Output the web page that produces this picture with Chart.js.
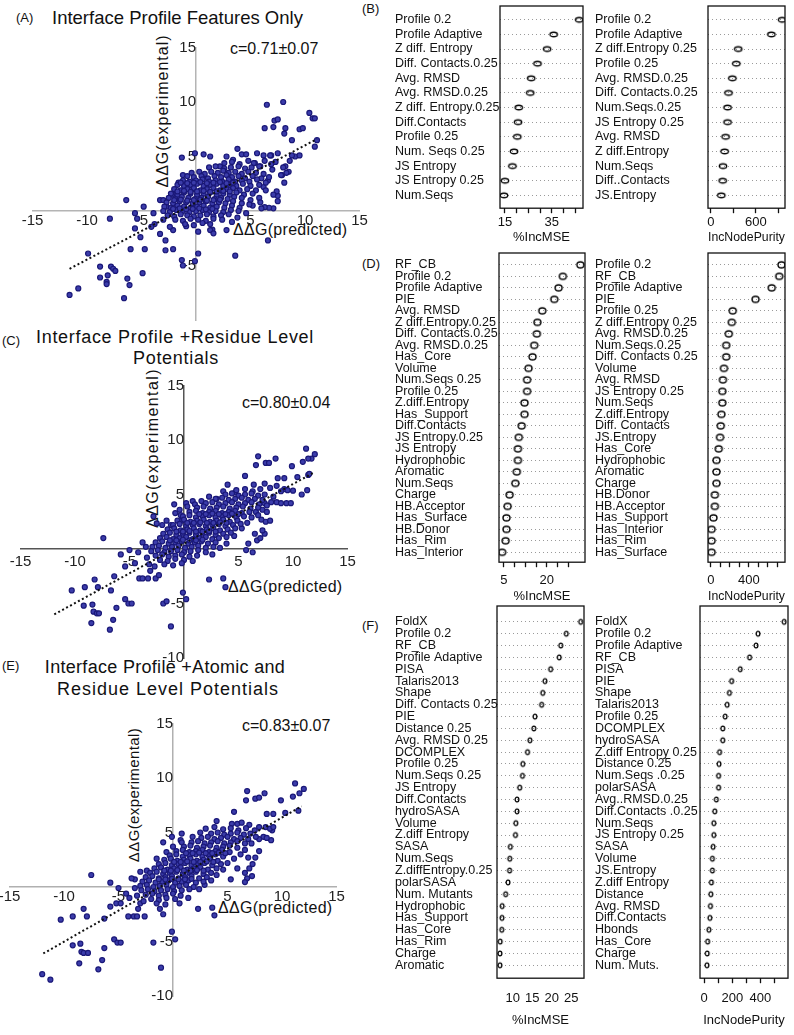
<!DOCTYPE html>
<html>
<head>
<meta charset="utf-8">
<script src="https://cdn.jsdelivr.net/npm/chart.js@4.4.1/dist/chart.umd.min.js"></script>
<style>
  body { margin: 0; background: #fff; }
  #page { position: relative; width: 794px; height: 1035px; overflow: hidden;
          font-family: "Liberation Sans", Arial, sans-serif; color: #111; }
  canvas { position: absolute; }
  .t { position: absolute; white-space: nowrap; line-height: 1; transform: translateY(-50%); }
  .tc { position: absolute; white-space: nowrap; line-height: 1; transform: translate(-50%, -50%); }
  .rot { position: absolute; white-space: nowrap; line-height: 1; transform: translate(-50%, -50%) rotate(-90deg); }
</style>
</head>
<body>
<div id="page">
  <div class="t" style="left:16px;top:17px;font-size:13px">(A)</div>
  <div class="t" style="left:52px;top:18px;font-size:18.5px">Interface Profile Features Only</div>
  <div class="t" style="left:230px;top:49px;font-size:16px">c=0.71±0.07</div>
  <div class="rot" style="left:163px;top:111px;font-size:16px;letter-spacing:1px">ΔΔG(experimental)</div>
  <div class="t" style="left:233px;top:230px;font-size:16px;letter-spacing:0.3px">ΔΔG(predicted)</div>

  <div class="t" style="left:2px;top:340px;font-size:13px">(C)</div>
  <div class="tc" style="left:175px;top:337px;font-size:18px;letter-spacing:0.7px">Interface Profile +Residue Level</div>
  <div class="tc" style="left:176px;top:358px;font-size:18px;letter-spacing:0.7px">Potentials</div>
  <div class="t" style="left:242px;top:403px;font-size:16px">c=0.80±0.04</div>
  <div class="rot" style="left:153px;top:448px;font-size:16px;letter-spacing:1.4px">ΔΔG(experimental)</div>
  <div class="t" style="left:228px;top:587px;font-size:16px;letter-spacing:0.3px">ΔΔG(predicted)</div>

  <div class="t" style="left:2px;top:665px;font-size:13px">(E)</div>
  <div class="tc" style="left:165px;top:667px;font-size:18px;letter-spacing:0.3px">Interface Profile +Atomic and</div>
  <div class="tc" style="left:168px;top:689px;font-size:18px;letter-spacing:1px">Residue Level Potentials</div>
  <div class="t" style="left:242px;top:726px;font-size:16px">c=0.83±0.07</div>
  <div class="rot" style="left:133px;top:795px;font-size:15px;letter-spacing:0.4px">ΔΔG(experimental)</div>
  <div class="t" style="left:218px;top:908px;font-size:16px;letter-spacing:0.3px">ΔΔG(predicted)</div>

  <div class="t" style="left:362px;top:8px;font-size:13px">(B)</div>
  <div class="t" style="left:362px;top:263px;font-size:13px">(D)</div>
  <div class="t" style="left:362px;top:625px;font-size:13px">(F)</div>
</div>
<script>
// ---- scatter data: [predicted, experimental] ----
const scatterA = [
  [6.5,9.75],[8.0,10.0],[7.2,8.3],[7.5,8.4],[7.1,7.7],[6.3,7.6],[8.2,7.6],[8.1,7.1],[9.5,7.5],[9.8,7.6],
  [10.4,9.0],[10.7,8.5],[10.9,8.5],[8.8,6.5],[11.1,6.5],[10.9,5.9],[9.1,5.0],[8.6,4.6],[8.2,4.1],[8.5,3.6],
  [8.1,2.6],[7.9,3.3],[8.8,5.1],[9.5,5.1],[8.0,4.0],[8.3,3.5],[7.8,3.3],
  [7.5,1.4],[7.5,0.9],[7.1,0.25],[6.7,0.3],[6.3,0.35],[6.0,0.25],[7.4,1.8],[7.1,1.5],[6.6,-2.7],[5.8,1.2],
  [6.2,2.2],[6.6,2.8],[7.0,3.8],[6.9,4.3],[5.9,0.8],[5.2,0.5],[4.6,-0.2],[3.8,-0.6],[3.3,-1.0],[6.4,1.9],
  [-1.3,4.9],[-1.2,3.3],[-1.6,2.6],[-2.2,1.5],[-1.8,1.6],[-1.0,2.25],[-0.25,2.0],[-0.1,5.3],[0.7,5.2],
  [1.3,5.0],[2.8,5.0],[3.8,5.7],[4.2,5.2],[4.6,5.2],[5.6,5.3],[6.2,5.1],[6.9,5.1],[5.4,4.4],[5.9,4.1],
  [6.8,5.1],[7.5,5.3],[2.2,4.1],[3.4,4.7],[6.3,4.6],[7.3,4.5],
  [3.6,-4.1],[0.2,-3.9],[-0.1,-4.6],[-1.2,-5.0],[-1.3,-4.5],[-2.1,-3.5],[-2.8,-3.6],[-2.8,-2.7],[-3.3,-2.1],
  [-3.0,-0.8],[-3.8,-1.2],[1.5,-1.7],[-0.9,-1.4],[-2.1,-1.75],[-2.4,-1.45],[-4.1,-1.45],[0.2,-1.9],
  [1.3,-1.75],[1.6,-2.05],[2.8,-1.75],
  [-4.7,-3.5],[-5.1,-2.4],[-5.6,-1.6],[-5.4,-0.7],[-5.6,-0.2],[-3.9,-0.2],[-4.8,0.4],[-3.3,1.0],[-3.0,1.0],
  [-2.7,0.4],[-6.4,1.0],[-7.9,-0.7],[-6.0,-3.5],[-9.9,-3.9],[-8.8,-5.1],[-7.8,-5.1],[-7.6,-5.3],[-7.4,-5.5],
  [-8.8,-6.1],[-8.1,-5.9],[-8.2,-6.5],[-8.2,-6.7],[-6.3,-6.2],[-6.1,-6.8],[-4.9,-5.7],[-10.8,-7.1],
  [-11.6,-7.7],[-6.6,-8.0],
  [2.6,4.4],[3.3,4.5],[4.0,4.3],[4.8,4.6],[5.3,4.4],
  [1.2,4.0],[1.8,4.1],[2.6,3.9],[3.2,4.0],[3.9,4.1],[4.5,3.9],[5.1,4.0],[5.8,4.1],
  [-0.4,3.5],[0.3,3.6],[0.8,3.4],[1.4,3.6],[2.0,3.5],[2.5,3.7],[3.0,3.5],[3.6,3.6],[4.2,3.4],[4.8,3.6],[5.5,3.5],[6.2,3.4],
  [-0.8,3.2],[-0.2,3.1],[0.5,3.2],[1.1,3.0],[1.7,3.2],[2.3,3.1],[2.8,3.3],[3.3,3.1],[3.9,3.2],[4.5,3.0],[5.2,3.2],[6.0,3.0],[6.7,3.1],
  [-1.2,2.8],[-0.6,2.7],[0.0,2.8],[0.6,2.9],[1.2,2.7],[1.8,2.8],[2.4,2.7],[3.0,2.9],[3.6,2.7],[4.2,2.8],[4.9,2.7],[5.6,2.9],[6.4,2.6],
  [-1.7,2.4],[-1.1,2.3],[-0.5,2.4],[0.1,2.5],[0.7,2.3],[1.3,2.4],[1.9,2.5],[2.5,2.3],[3.1,2.4],[3.7,2.3],[4.3,2.5],[5.0,2.3],[5.8,2.4],
  [-2.0,2.0],[-1.4,1.9],[-0.8,2.0],[-0.2,2.1],[0.4,1.9],[1.0,2.0],[1.6,2.1],[2.2,1.9],[2.8,2.0],[3.4,2.1],[4.0,1.9],[4.7,2.0],[5.5,1.9],
  [-2.3,1.6],[-1.7,1.5],[-1.1,1.7],[-0.5,1.6],[0.1,1.5],[0.7,1.6],[1.3,1.7],[1.9,1.5],[2.5,1.6],[3.1,1.5],[3.7,1.7],[4.4,1.5],[5.2,1.6],
  [-2.5,1.2],[-1.9,1.1],[-1.3,1.3],[-0.7,1.2],[-0.1,1.1],[0.5,1.2],[1.1,1.3],[1.7,1.1],[2.3,1.2],[2.9,1.1],[3.5,1.3],[4.2,1.2],[5.0,1.0],
  [-2.7,0.8],[-2.1,0.7],[-1.5,0.9],[-0.9,0.8],[-0.3,0.7],[0.3,0.8],[0.9,0.9],[1.5,0.7],[2.1,0.8],[2.7,0.7],[3.4,0.9],[4.2,0.7],[4.9,0.6],
  [-2.9,0.4],[-2.3,0.3],[-1.7,0.5],[-1.1,0.4],[-0.5,0.3],[0.1,0.4],[0.7,0.5],[1.3,0.3],[1.9,0.4],[2.6,0.3],[3.3,0.5],[4.0,0.3],
  [-3.0,0.0],[-2.4,-0.1],[-1.8,0.1],[-1.2,0.0],[-0.6,-0.1],[0.0,0.0],[0.6,0.1],[1.2,-0.1],[1.8,0.0],[2.5,-0.1],[3.2,0.1],[3.9,0.0],
  [-2.6,-0.4],[-2.0,-0.5],[-1.4,-0.3],[-0.8,-0.4],[-0.2,-0.5],[0.4,-0.4],[1.0,-0.3],[1.6,-0.5],[2.3,-0.4],[3.0,-0.3],
  [-1.9,-0.8],[-1.2,-0.9],[-0.5,-0.7],[0.2,-0.8],[0.9,-0.9],[1.6,-0.7],[2.4,-0.8],
  [-1.0,-1.2],[-0.2,-1.3],[0.6,-1.1],[1.3,-1.2],
  [-1.4,2.6],[-0.8,2.55],[-0.2,2.6],[0.4,2.65],[1.0,2.55],[1.6,2.6],[2.2,2.65],[2.8,2.55],[3.4,2.6],
  [-1.7,1.8],[-1.1,1.85],[-0.5,1.75],[0.1,1.8],[0.7,1.85],[1.3,1.75],[1.9,1.8],[2.5,1.85],[3.1,1.8],
  [-2.0,1.0],[-1.4,1.05],[-0.8,0.95],[-0.2,1.0],[0.4,1.05],[1.0,0.95],[1.6,1.0],[2.2,1.05],
  [-2.1,0.2],[-1.5,0.25],[-0.9,0.15],[-0.3,0.2],[0.3,0.25],[0.9,0.15],[1.5,0.2]
];
const scatterC = [
  [11.2,9.2],[12.0,8.7],[11.7,8.3],[11.4,8.3],[10.9,8.0],[9.9,7.6],[10.4,6.6],[11.4,6.8],[11.5,6.9],
  [6.8,8.5],[6.6,7.7],[7.5,7.9],[7.8,7.9],[8.4,8.3],
  [8.6,6.5],[9.2,6.5],[8.5,5.8],[9.2,5.5],[10.0,5.35],[10.8,5.0],[11.3,5.4],[9.5,5.4],[8.9,5.3],
  [5.6,6.7],[4.0,5.9],[4.7,5.2],[3.0,4.6],[0.8,4.4],[0.2,4.2],
  [-0.9,4.1],[-0.4,3.6],[-0.3,3.1],[-0.2,2.6],[-1.2,2.2],[-2.8,3.0],[-2.5,2.35],[-7.4,1.0],[-5.0,-0.1],
  [-5.8,-0.5],[-3.5,0.2],[-4.5,-1.3],[-5.4,-1.6],[-6.4,-2.5],[-6.7,-3.8],[-8.2,-2.8],[-7.9,-3.5],
  [-9.1,-3.5],[-10.3,-3.8],[-9.2,-5.2],[-8.4,-5.1],[-8.3,-5.75],[-8.0,-5.9],[-7.8,-5.9],[-8.5,-6.8],
  [-6.8,-7.4],[-6.5,-6.5],[-6.2,-5.4],[-5.4,-4.6],[-5.1,-5.0],[-4.8,-5.0],
  [-4.1,-2.7],[-3.8,-2.7],[-3.3,-2.7],[-3.1,-2.0],[-2.6,-2.7],[-2.3,-2.4],[-1.9,-5.0],[-1.6,-4.8],
  [-1.2,-7.1],[-0.1,-4.0],[0.2,-4.6],[2.3,-2.8],[3.6,-2.7],[3.8,-3.5],
  [6.5,1.4],[6.7,0.8],[7.0,1.0],[7.4,1.4],[7.2,1.7],[5.9,0.5],[5.7,-0.1],[6.3,-0.3],
  [6.6,3.4],[7.2,3.6],[7.6,3.4],[8.0,4.3],[8.5,4.3],[8.9,4.2],[9.4,4.2],[9.8,4.2],[7.1,2.7],[7.5,2.5],
  [7.9,2.6],[7.4,4.2],
  [-0.8,3.3],[0.3,3.9],[1.0,4.1],[1.6,4.4],[2.3,4.8],[3.6,5.3],[-1.6,2.6],[-2.0,2.2],[5.8,2.4],[6.2,2.9],
  [5.3,1.9],[4.6,1.2],[3.9,0.5],[3.3,0.1],[2.6,-0.5],[6.8,3.1],[7.6,4.0],[8.2,4.8],[7.9,5.6],[7.4,6.0],
  [6.4,5.9],[-3.4,-0.8],[-3.2,-1.4],[-2.7,-1.6],[-3.8,0.6],[-4.2,-0.3],
  [4.8,5.4],[5.6,5.5],[6.3,5.3],[7.0,5.5],
  [3.8,5.0],[4.4,5.1],[5.0,4.9],[5.6,5.0],[6.2,5.1],[6.8,4.9],[7.4,5.0],
  [2.9,4.6],[3.5,4.7],[4.1,4.5],[4.7,4.6],[5.3,4.7],[5.9,4.5],[6.5,4.6],[7.2,4.5],
  [2.0,4.2],[2.6,4.3],[3.2,4.1],[3.8,4.2],[4.4,4.3],[5.0,4.1],[5.6,4.2],[6.2,4.3],[6.9,4.1],
  [1.2,3.8],[1.8,3.9],[2.4,3.7],[3.0,3.8],[3.6,3.9],[4.2,3.7],[4.8,3.8],[5.4,3.9],[6.1,3.7],[6.8,3.8],
  [0.5,3.4],[1.1,3.5],[1.7,3.3],[2.3,3.4],[2.9,3.5],[3.5,3.3],[4.1,3.4],[4.7,3.5],[5.3,3.3],[6.0,3.4],
  [-0.1,3.0],[0.5,3.1],[1.1,2.9],[1.7,3.0],[2.3,3.1],[2.9,2.9],[3.5,3.0],[4.1,3.1],[4.8,2.9],[5.5,3.0],
  [-0.6,2.6],[0.0,2.7],[0.6,2.5],[1.2,2.6],[1.8,2.7],[2.4,2.5],[3.0,2.6],[3.6,2.7],[4.2,2.5],[4.9,2.6],
  [-1.0,2.2],[-0.4,2.3],[0.2,2.1],[0.8,2.2],[1.4,2.3],[2.0,2.1],[2.6,2.2],[3.2,2.3],[3.8,2.1],[4.5,2.2],[5.2,2.3],
  [-1.5,1.8],[-0.9,1.9],[-0.3,1.7],[0.3,1.8],[0.9,1.9],[1.5,1.7],[2.1,1.8],[2.7,1.9],[3.3,1.7],[4.0,1.8],[4.7,1.9],
  [-1.9,1.4],[-1.3,1.5],[-0.7,1.3],[-0.1,1.4],[0.5,1.5],[1.1,1.3],[1.7,1.4],[2.3,1.5],[2.9,1.3],[3.6,1.4],[4.3,1.5],
  [-2.2,1.0],[-1.6,1.1],[-1.0,0.9],[-0.4,1.0],[0.2,1.1],[0.8,0.9],[1.4,1.0],[2.0,1.1],[2.6,0.9],[3.2,1.0],[3.9,1.1],
  [-2.6,0.6],[-2.0,0.7],[-1.4,0.5],[-0.8,0.6],[-0.2,0.7],[0.4,0.5],[1.0,0.6],[1.6,0.7],[2.2,0.5],[2.9,0.6],
  [-2.9,0.2],[-2.3,0.3],[-1.7,0.1],[-1.1,0.2],[-0.5,0.3],[0.1,0.1],[0.7,0.2],[1.3,0.3],[2.0,0.1],[2.7,0.2],
  [-3.0,-0.2],[-2.4,-0.1],[-1.8,-0.3],[-1.2,-0.2],[-0.6,-0.1],[0.0,-0.3],[0.6,-0.2],[1.3,-0.1],[2.0,-0.3],
  [-2.6,-0.6],[-2.0,-0.5],[-1.4,-0.7],[-0.8,-0.6],[-0.2,-0.5],[0.5,-0.7],[1.2,-0.6],
  [-2.2,-1.0],[-1.5,-1.1],[-0.8,-0.9],[0.0,-1.0],[0.8,-1.1],
  [-1.8,-1.4],[-1.0,-1.5],[-0.2,-1.3],
  [-1.3,0.8],[-0.7,0.8],[-0.1,0.85],[0.5,0.8],[1.1,0.8],[1.7,0.85],[-0.7,1.6],[-0.1,1.6],[0.5,1.65],
  [1.1,1.6],[1.7,1.6],[2.3,1.65],[2.9,1.6],[0.3,2.4],[0.9,2.4],[1.5,2.45],[2.1,2.4],[2.7,2.4],[3.3,2.45],
  [3.9,2.4],[1.4,3.2],[2.0,3.2],[2.6,3.25],[3.2,3.2],[3.8,3.2],[4.4,3.25],[5.0,3.2]
];
const scatterE = [
  [11.2,9.5],[12.0,9.0],[11.6,8.6],[11.0,8.3],[9.9,7.95],[11.5,7.0],[10.3,6.8],
  [6.8,8.8],[6.7,7.95],[7.55,8.1],[7.9,8.2],[8.4,8.6],
  [8.6,6.7],[9.2,6.7],[5.6,6.9],[9.1,5.2],[9.0,4.3],[8.3,4.6],[8.6,4.5],[7.9,4.4],
  [3.0,5.35],[4.0,6.05],[5.9,5.8],[0.8,4.9],[-0.1,4.6],[-0.9,4.1],[0.7,4.3],
  [-7.5,1.1],[-5.75,0.4],[-5.0,-0.1],[-2.4,1.5],[-3.0,1.4],[-3.5,0.7],
  [-5.75,-1.8],[-5.2,-1.5],[-4.8,-1.5],[-4.1,-2.7],[-3.6,-2.7],[-3.3,-2.7],[-2.6,-2.7],[-3.2,-2.0],
  [-3.0,-1.5],[-0.9,-2.5],
  [-8.2,-2.0],[-7.9,-2.7],[-9.2,-2.7],[-10.3,-3.0],[-6.3,-2.9],[-9.2,-5.35],[-8.5,-5.2],[-8.4,-5.95],
  [-8.2,-6.05],[-7.8,-6.05],[-8.6,-7.0],[-6.5,-6.7],[-6.3,-5.6],[-5.4,-4.8],[-5.1,-5.1],[-4.8,-5.1],
  [-6.85,-7.55],[-12.0,-8.0],[-11.25,-8.5],[-1.8,-5.1],[-1.1,-7.4],[-0.1,-4.1],[0.2,-4.8],
  [2.3,-2.0],[3.6,-1.9],[3.8,-2.6],
  [6.6,1.3],[7.0,1.7],[7.25,1.0],[6.8,0.8],[6.6,0.45],[5.3,0.7],[5.9,1.7],[7.3,2.1],[7.9,3.3],[7.55,2.7],
  [6.9,2.7],[7.9,5.5],[8.5,5.5],[8.9,5.35],[9.2,5.5],
  [-1.5,2.6],[-0.6,3.2],[0.0,3.7],[0.8,4.1],[1.8,4.6],[2.5,5.0],[3.8,5.5],[5.4,5.8],[6.3,5.9],[7.0,5.7],
  [7.5,5.2],[7.6,4.6],[7.2,4.0],[6.6,3.4],[6.2,3.0],[5.6,2.6],[5.0,2.2],[4.6,1.6],[4.0,1.1],[3.5,0.6],
  [2.9,0.2],[2.4,-0.2],[-3.5,-0.1],[-3.3,-0.8],[-2.7,-1.3],[-3.8,0.8],[-4.3,-0.6],[-4.0,-1.0],
  [-1.2,-2.0],[0.6,-1.5],[1.4,-1.0],
  [4.6,5.3],[5.3,5.4],[6.0,5.2],[6.7,5.4],
  [3.5,4.9],[4.1,5.0],[4.7,4.8],[5.3,4.9],[5.9,5.0],[6.5,4.8],[7.1,4.9],
  [2.6,4.5],[3.2,4.6],[3.8,4.4],[4.4,4.5],[5.0,4.6],[5.6,4.4],[6.2,4.5],[6.9,4.4],
  [1.7,4.1],[2.3,4.2],[2.9,4.0],[3.5,4.1],[4.1,4.2],[4.7,4.0],[5.3,4.1],[5.9,4.2],[6.6,4.0],
  [1.0,3.7],[1.6,3.8],[2.2,3.6],[2.8,3.7],[3.4,3.8],[4.0,3.6],[4.6,3.7],[5.2,3.8],[5.9,3.6],
  [0.3,3.3],[0.9,3.4],[1.5,3.2],[2.1,3.3],[2.7,3.4],[3.3,3.2],[3.9,3.3],[4.5,3.4],[5.2,3.2],
  [-0.3,2.9],[0.3,3.0],[0.9,2.8],[1.5,2.9],[2.1,3.0],[2.7,2.8],[3.3,2.9],[3.9,3.0],[4.6,2.8],
  [-0.8,2.5],[-0.2,2.6],[0.4,2.4],[1.0,2.5],[1.6,2.6],[2.2,2.4],[2.8,2.5],[3.4,2.6],[4.1,2.4],
  [-1.3,2.1],[-0.7,2.2],[-0.1,2.0],[0.5,2.1],[1.1,2.2],[1.7,2.0],[2.3,2.1],[2.9,2.2],[3.6,2.0],[4.4,2.1],
  [-1.7,1.7],[-1.1,1.8],[-0.5,1.6],[0.1,1.7],[0.7,1.8],[1.3,1.6],[1.9,1.7],[2.5,1.8],[3.2,1.6],[4.0,1.7],
  [-2.1,1.3],[-1.5,1.4],[-0.9,1.2],[-0.3,1.3],[0.3,1.4],[0.9,1.2],[1.5,1.3],[2.1,1.4],[2.8,1.2],[3.5,1.3],
  [-2.5,0.9],[-1.9,1.0],[-1.3,0.8],[-0.7,0.9],[-0.1,1.0],[0.5,0.8],[1.1,0.9],[1.7,1.0],[2.4,0.8],[3.1,0.9],
  [-2.8,0.5],[-2.2,0.6],[-1.6,0.4],[-1.0,0.5],[-0.4,0.6],[0.2,0.4],[0.8,0.5],[1.4,0.6],[2.1,0.4],[2.8,0.5],
  [-3.0,0.1],[-2.4,0.2],[-1.8,0.0],[-1.2,0.1],[-0.6,0.2],[0.0,0.0],[0.6,0.1],[1.2,0.2],[1.9,0.0],
  [-2.9,-0.3],[-2.3,-0.2],[-1.7,-0.4],[-1.1,-0.3],[-0.5,-0.2],[0.1,-0.4],[0.8,-0.3],[1.5,-0.2],
  [-2.5,-0.7],[-1.9,-0.6],[-1.3,-0.8],[-0.7,-0.7],[0.0,-0.6],[0.7,-0.8],
  [-2.0,-1.1],[-1.3,-1.2],[-0.6,-1.0],[0.2,-1.1],
  [-1.5,-1.5],[-0.7,-1.6],
  [-1.3,0.7],[-0.7,0.7],[-0.1,0.75],[0.5,0.7],[1.1,0.7],[1.7,0.75],[-0.8,1.5],[-0.2,1.5],[0.4,1.55],
  [1.0,1.5],[1.6,1.5],[2.2,1.55],[2.8,1.5],[0.1,2.3],[0.7,2.3],[1.3,2.35],[1.9,2.3],[2.5,2.3],[3.1,2.35],
  [3.7,2.3],[1.2,3.1],[1.8,3.1],[2.4,3.15],[3.0,3.1],[3.6,3.1],[4.2,3.15],[4.8,3.1]
];
// dotted fit lines (end points)
const fitA = [[-11.6,-5.3],[11.1,6.6]];
const fitC = [[-11.9,-6.0],[11.9,7.0]];
const fitE = [[-11.9,-6.1],[11.8,7.4]];

// ---- variable importance ----
const namesB1 = ["Profile 0.2","Profile Adaptive","Z diff. Entropy","Diff. Contacts.0.25","Avg. RMSD","Avg. RMSD.0.25",
  "Z diff. Entropy.0.25","Diff.Contacts","Profile 0.25","Num. Seqs 0.25","JS Entropy","JS Entropy 0.25","Num.Seqs"];
const incMseB = [46.7, 35.8, 33.0, 28.9, 26.2, 25.8, 20.9, 20.6, 20.3, 18.9, 18.2, 15.0, 14.6];
const namesB2 = ["Profile 0.2","Profile Adaptive","Z diff.Entropy 0.25","Profile 0.25","Avg. RMSD.0.25","Diff. Contacts.0.25",
  "Num.Seqs.0.25","JS Entropy 0.25","Avg. RMSD","Z diff.Entropy","Num.Seqs","Diff..Contacts","JS.Entropy"];
const purityB = [952, 808, 365, 339, 287, 235, 222, 222, 196, 183, 161, 157, 139];

const namesD1 = ["RF_CB","Profile 0.2","Profile Adaptive","PIE","Avg. RMSD","Z diff.Entropy.0.25","Diff. Contacts.0.25",
  "Avg. RMSD.0.25","Has_Core","Volume","Num.Seqs 0.25","Profile 0.25","Z.diff.Entropy","Has_Support","Diff.Contacts",
  "JS Entropy.0.25","JS Entropy","Hydrophobic","Aromatic","Num.Seqs","Charge","HB.Acceptor","Has_Surface","HB.Donor",
  "Has_Rim","Has_Interior"];
const incMseD = [31.7, 25.6, 24.1, 22.6, 18.4, 16.7, 16.5, 15.6, 15.0, 13.6, 13.1, 13.1, 12.2, 12.2, 11.2, 10.2, 9.9,
  9.9, 9.5, 9.0, 7.0, 6.3, 5.9, 5.9, 5.6, 4.4];
const namesD2 = ["Profile 0.2","RF_CB","Profile Adaptive","PIE","Profile 0.25","Z diff.Entropy 0.25","Avg. RMSD.0.25",
  "Num.Seqs.0.25","Diff. Contacts 0.25","Volume","Avg. RMSD","JS Entropy 0.25","Num.Seqs","Z.diff.Entropy",
  "Diff. Contacts","JS.Entropy","Has_Core","Hydrophobic","Aromatic","Charge","HB.Donor","HB.Acceptor","Has_Support",
  "Has_Interior","Has_Rim","Has_Surface"];
const purityD = [742, 718, 639, 469, 229, 219, 188, 161, 161, 137, 126, 120, 120, 110, 103, 96, 82, 58, 58, 58, 41,
  41, 27, 7, 7, 7];

const namesF1 = ["FoldX","Profile 0.2","RF_CB","Profile Adaptive","PISA","Talaris2013","Shape","Diff. Contacts 0.25",
  "PIE","Distance 0.25","Avg. RMSD 0.25","DCOMPLEX","Profile 0.25","Num.Seqs 0.25","JS Entropy","Diff.Contacts",
  "hydroSASA","Volume","Z.diff Entropy","SASA","Num.Seqs","Z.diffEntropy.0.25","polarSASA","Num. Mutants",
  "Hydrophobic","Has_Support","Has_Core","Has_Rim","Charge","Aromatic"];
const incMseF = [27.4, 23.7, 22.3, 21.9, 19.7, 18.25, 17.7, 17.4, 15.7, 15.4, 14.4, 13.8, 12.6, 12.5, 11.8, 11.1,
  11.1, 10.8, 10.7, 9.4, 9.25, 9.2, 8.8, 8.2, 7.3, 7.25, 7.2, 6.8, 6.75, 6.75];
const namesF2 = ["FoldX","Profile 0.2","Profile Adaptive","RF_CB","PISA","PIE","Shape","Talaris2013","Profile 0.25",
  "DCOMPLEX","hydroSASA","Z.diff Entropy 0.25","Distance 0.25","Num.Seqs .0.25","polarSASA","Avg..RMSD.0.25",
  "Diff.Contacts .0.25","Num.Seqs","JS Entropy 0.25","SASA","Volume","JS.Entropy","Z.diff Entropy","Distance",
  "Avg. RMSD","Diff.Contacts","Hbonds","Has_Core","Charge","Num. Muts."];
const purityF = [569, 383, 369, 323, 256, 195, 179, 163, 149, 132, 132, 109, 105, 102, 102, 86, 75, 68, 68, 63, 58,
  58, 51, 47, 44, 40, 33, 24, 21, 19];

// axis ticks of the importance panels
const ticksB1 = [15, 20, 25, 30, 35, 40, 45], shownB1 = [15, 35];
const ticksB2 = [0, 300, 600, 900], shownB2 = [0, 600];
const ticksD1 = [5, 8.75, 12.5, 16.25, 20, 23.75, 27.5], shownD1 = [5, 20];
const ticksD2 = [0, 100, 200, 300, 400, 500, 600, 700], shownD2 = [0, 400];
const ticksF1 = [10, 15, 20, 25], shownF1 = [10, 15, 20, 25];
const ticksF2 = [0, 100, 200, 300, 400, 500], shownF2 = [0, 200, 400];

Chart.defaults.font.family = '"Liberation Sans", Arial, sans-serif';
Chart.defaults.color = "#111";

const page = document.getElementById("page");

function addCanvas(left, top, w, h) {
  const cv = document.createElement("canvas");
  cv.width = Math.round(w);
  cv.height = Math.round(h);
  cv.style.left = left + "px";
  cv.style.top = top + "px";
  page.appendChild(cv);
  return cv;
}

function noPad(s) {
  s.paddingLeft = s.paddingRight = s.paddingTop = s.paddingBottom = 0;
}

const toXY = (pairs) => pairs.map(([x, y]) => ({ x, y }));

function scatterPanel(pos, points, fit, opt) {
  const cv = addCanvas(pos.left, pos.top, pos.w, pos.h);
  const tickFont = { size: 15 };
  new Chart(cv, {
    type: "scatter",
    data: {
      datasets: [
        {
          data: toXY(fit),
          showLine: true,
          borderColor: "#111",
          borderWidth: 2,
          borderDash: [2, 2.5],
          pointRadius: 0,
          order: 0,
        },
        {
          data: toXY(points),
          pointRadius: 2.5,
          borderWidth: 1.2,
          borderColor: "#1a1878",
          backgroundColor: "#3b3caa",
          order: 1,
        },
      ],
    },
    options: {
      responsive: false,
      animation: false,
      events: [],
      layout: { padding: pos.pad },
      plugins: { legend: { display: false }, tooltip: { enabled: false } },
      scales: {
        x: {
          type: "linear",
          min: -15,
          max: 15,
          position: { y: 0 },
          ticks: {
            stepSize: 5,
            font: tickFont,
            color: "#222",
            padding: opt.xPad,
            maxRotation: 0,
            callback: (v) => (v === 0 ? "" : String(v)),
          },
          grid: { drawOnChartArea: false, drawTicks: false },
          border: { color: opt.axis, width: 1.5 },
          afterFit: noPad,
        },
        y: {
          type: "linear",
          min: -10,
          max: 15,
          position: { x: 0 },
          ticks: {
            stepSize: 5,
            font: tickFont,
            color: "#222",
            padding: 6,
            callback: (v) => (v === 0 || opt.hideY.includes(v) ? "" : String(v)),
          },
          grid: { drawOnChartArea: false, drawTicks: false },
          border: { color: opt.axis, width: 1.5 },
          afterFit: noPad,
        },
      },
    },
  });
}

const boxPlugin = {
  id: "box",
  afterDraw(chart) {
    const { ctx, chartArea: a } = chart;
    ctx.save();
    ctx.strokeStyle = "#111";
    ctx.lineWidth = 1.3;
    ctx.strokeRect(a.left, a.top, a.right - a.left, a.bottom - a.top);
    ctx.restore();
  },
};

function ring(w, h, lw) {
  const c = document.createElement("canvas");
  c.width = Math.ceil(w + lw * 2 + 1);
  c.height = Math.ceil(h + lw * 2 + 1);
  const g = c.getContext("2d");
  g.lineWidth = lw;
  g.strokeStyle = "#000";
  g.beginPath();
  g.ellipse(c.width / 2, c.height / 2, w / 2, h / 2, 0, 0, Math.PI * 2);
  g.stroke();
  return c;
}

function dotPanel(cfg) {
  const [bl, br, bt, bb] = cfg.box;
  const top = bt - 2;
  const cv = addCanvas(cfg.lx, top, br - cfg.lx + 3, bb - top + cfg.axisH + 2);
  new Chart(cv, {
    type: "scatter",
    data: {
      datasets: [{
        data: cfg.values.map((v, i) => ({ x: v, y: i })),
        pointStyle: cfg.marker,
        pointRadius: 4,
      }],
    },
    options: {
      responsive: false,
      animation: false,
      events: [],
      layout: { padding: { left: 0, top: 2, right: 3, bottom: 2 } },
      plugins: { legend: { display: false }, tooltip: { enabled: false } },
      scales: {
        x: {
          type: "linear",
          min: cfg.xmin,
          max: cfg.xmax,
          afterBuildTicks: (s) => { s.ticks = cfg.ticks.map((v) => ({ value: v })); },
          ticks: {
            font: { size: 13 },
            color: "#111",
            padding: cfg.tickPad,
            maxRotation: 0,
            autoSkip: false,
            callback: (v) => (cfg.shown.includes(v) ? String(v) : ""),
          },
          grid: {
            drawOnChartArea: false,
            drawTicks: cfg.tickLen > 0,
            tickLength: cfg.tickLen,
            tickColor: "#111",
            tickWidth: 1.3,
          },
          border: { display: false },
          title: { display: true, text: cfg.title, font: { size: 13 }, color: "#111", padding: 0 },
          afterFit: (s) => { noPad(s); s.height = cfg.axisH; },
        },
        y: {
          type: "linear",
          reverse: true,
          min: cfg.rowMin,
          max: cfg.rowMax,
          afterBuildTicks: (s) => { s.ticks = cfg.names.map((n, i) => ({ value: i })); },
          ticks: {
            font: { size: 12.5 },
            color: "#111",
            padding: 0,
            crossAlign: "far",
            autoSkip: false,
            callback: (v) => cfg.names[v],
          },
          grid: { color: "#9a9a9a", lineWidth: 1, drawTicks: false },
          border: { display: false, dash: [1, 3] },
          afterFit: (s) => { noPad(s); s.width = bl - cfg.lx; },
        },
      },
    },
    plugins: [boxPlugin],
  });
}

// scatter panels
scatterPanel({ left: 0, top: 30, w: 380, h: 300, pad: { left: 32.5, right: 20.5, top: 17.5, bottom: 10 } },
  scatterA, fitA, { axis: "#b4b4b4", xPad: 1, hideY: [-10] });
scatterPanel({ left: 0, top: 370, w: 380, h: 300, pad: { left: 20.5, right: 32.5, top: 15.5, bottom: 12 } },
  scatterC, fitC, { axis: "#555", xPad: 4, hideY: [] });
scatterPanel({ left: 0, top: 705, w: 380, h: 300, pad: { left: 9.5, right: 43.5, top: 18.5, bottom: 9 } },
  scatterE, fitE, { axis: "#b0b0b0", xPad: 1, hideY: [] });

// importance panels
const ovalB = ring(7.5, 4.5, 1.3);
const ovalD = ring(7, 6, 1.4);
const ovalF = ring(3.8, 4.6, 1.3);

dotPanel({ names: namesB1, values: incMseB, lx: 395, box: [500, 585, 3, 208], xmin: 12.92, xmax: 48.33,
  ticks: ticksB1, shown: shownB1, title: "%IncMSE", rowMin: -0.94, rowMax: 12.88, marker: ovalB,
  tickLen: 5, tickPad: 1.2, axisH: 36.8 });
dotPanel({ names: namesB2, values: purityB, lx: 595, box: [708, 787, 3, 208], xmin: -39, xmax: 991,
  ticks: ticksB2, shown: shownB2, title: "IncNodePurity", rowMin: -0.94, rowMax: 12.88, marker: ovalB,
  tickLen: 5, tickPad: 1.2, axisH: 36.8 });
dotPanel({ names: namesD1, values: incMseD, lx: 395, box: [499, 587, 250, 562], xmin: 3.29, xmax: 33.33,
  ticks: ticksD1, shown: shownD1, title: "%IncMSE", rowMin: -1.03, rowMax: 25.86, marker: ovalD,
  tickLen: 5, tickPad: 5.2, axisH: 41.8 });
dotPanel({ names: namesD2, values: purityD, lx: 595, box: [708, 787, 250, 562], xmin: -30.8, xmax: 779,
  ticks: ticksD2, shown: shownD2, title: "IncNodePurity", rowMin: -1.03, rowMax: 25.86, marker: ovalD,
  tickLen: 5, tickPad: 5.2, axisH: 41.8 });
dotPanel({ names: namesF1, values: incMseF, lx: 395, box: [497, 586, 603, 978], xmin: 6, xmax: 28.25,
  ticks: ticksF1, shown: shownF1, title: "%IncMSE", rowMin: -1.34, rowMax: 30.09, marker: ovalF,
  tickLen: 0, tickPad: 12.2, axisH: 49.8 });
dotPanel({ names: namesF2, values: purityF, lx: 595, box: [700, 790, 603, 978], xmin: -30, xmax: 597,
  ticks: ticksF2, shown: shownF2, title: "IncNodePurity", rowMin: -1.34, rowMax: 30.09, marker: ovalF,
  tickLen: 5, tickPad: 7.2, axisH: 49.8 });
</script>
</body>
</html>
